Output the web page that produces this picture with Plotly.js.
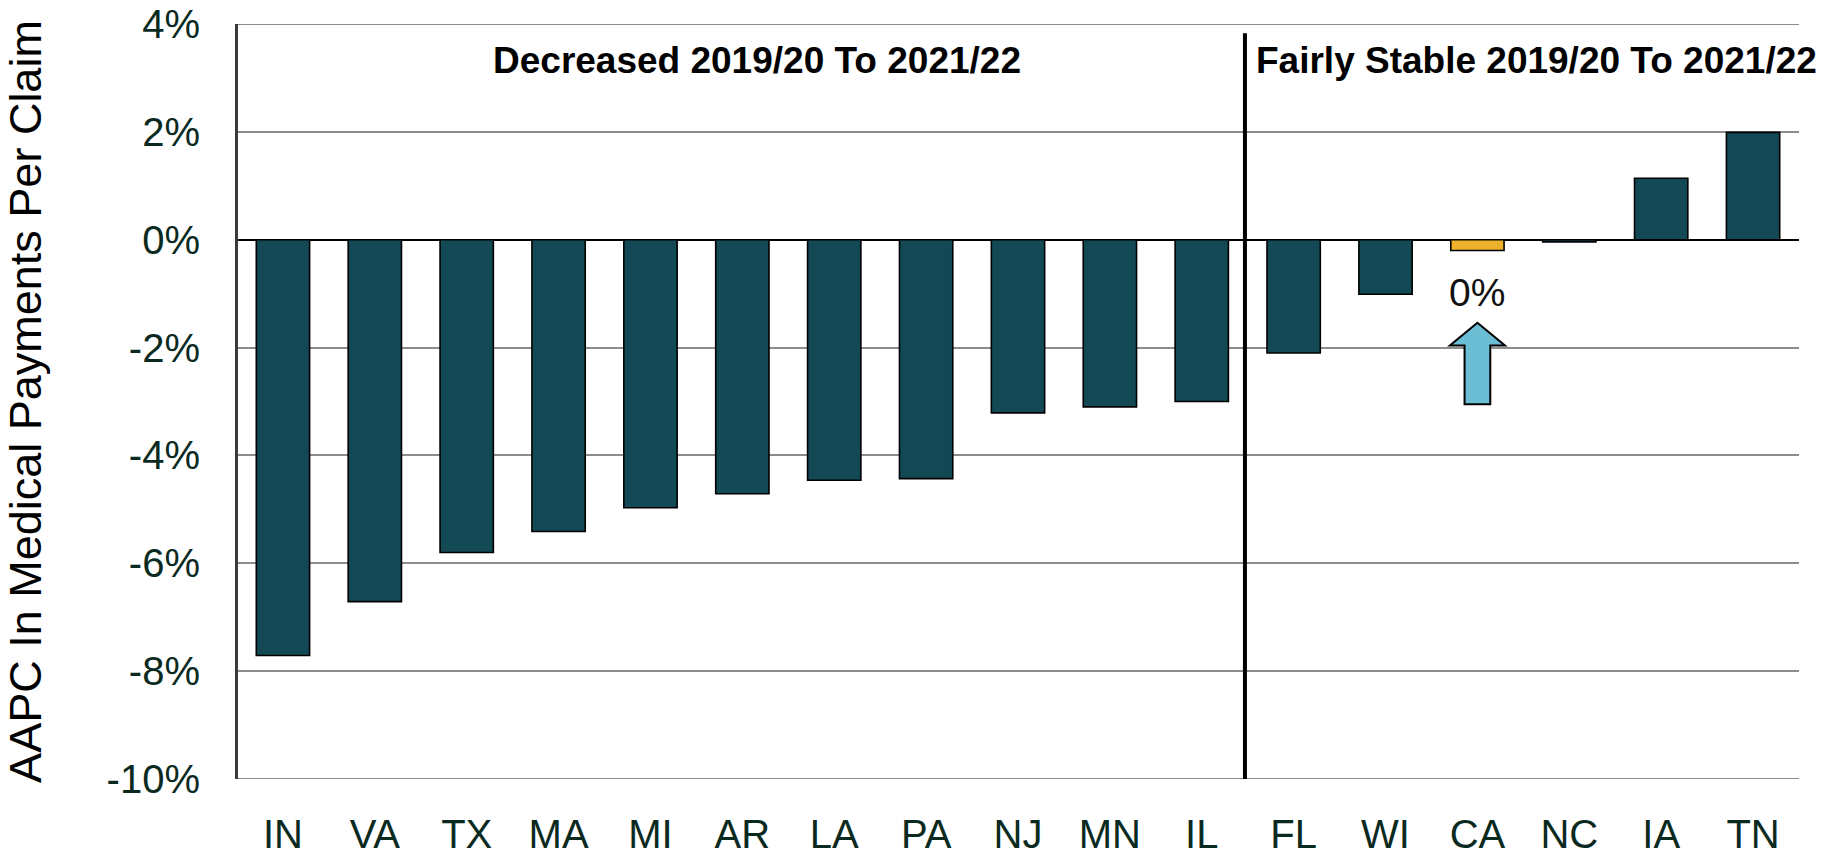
<!DOCTYPE html>
<html>
<head>
<meta charset="utf-8">
<script src="https://cdn.plot.ly/plotly-3.0.1.min.js"></script>
<style>
  html, body { margin: 0; padding: 0; background: #ffffff; }
  #chart { width: 1826px; height: 857px; }
</style>
</head>
<body>
<div id="chart"></div>
<script>
// ---- data ----
const states = ["IN", "VA", "TX", "MA", "MI", "AR", "LA", "PA", "NJ", "MN", "IL", "FL", "WI", "CA", "NC", "IA", "TN"];
const aapc = [-7.71, -6.71, -5.80, -5.41, -4.97, -4.71, -4.46, -4.43, -3.21, -3.10, -3.00, -2.10, -1.01, -0.20, -0.04, 1.14, 1.99];
const highlightState = "CA";
const yTickVals = [4, 2, 0, -2, -4, -6, -8, -10];
const yTickText = ["4%", "2%", "0%", "-2%", "-4%", "-6%", "-8%", "-10%"];
const groupLabels = ["Decreased 2019/20 To 2021/22", "Fairly Stable 2019/20 To 2021/22"];
const highlightLabel = "0%";
const yTitle = "AAPC In Medical Payments Per Claim";

// ---- styles ----
const TEAL = "#134955";
const GOLD = "#EDB12B";
const ARROW = "#6BBDD3";
const TICKCOLOR = "#0b2a1f";
const GRID = "#8c8c8c";
const FONT = "Liberation Sans, Arial, sans-serif";

const colors = states.map(s => s === highlightState ? GOLD : TEAL);
const ci = states.indexOf(highlightState);
const yMin = yTickVals[yTickVals.length - 1];
const yMax = yTickVals[0];

const trace = {
  type: "bar",
  x: states,
  y: aapc,
  marker: { color: colors, line: { color: "#000000", width: 1.6 } },
  hoverinfo: "x+y"
};

// up arrow drawn below the highlighted bar (category units on x, % on y)
const hw = 0.30, sw = 0.14;
const tipY = -1.54, baseY = -1.96, botY = -3.05;
const arrowPath =
  "M " + (ci) + " " + tipY +
  " L " + (ci + hw) + " " + baseY +
  " L " + (ci + sw) + " " + baseY +
  " L " + (ci + sw) + " " + botY +
  " L " + (ci - sw) + " " + botY +
  " L " + (ci - sw) + " " + baseY +
  " L " + (ci - hw) + " " + baseY + " Z";

const layout = {
  width: 1826,
  height: 857,
  margin: { l: 237, r: 27, t: 24, b: 78 },
  paper_bgcolor: "#ffffff",
  plot_bgcolor: "#ffffff",
  showlegend: false,
  bargap: 0.42,
  font: { family: FONT, color: TICKCOLOR },
  xaxis: {
    type: "category",
    categoryorder: "array",
    categoryarray: states,
    tickfont: { family: FONT, size: 40, color: TICKCOLOR },
    ticks: "outside",
    ticklen: 20,
    tickcolor: "rgba(0,0,0,0)",
    showgrid: false,
    showline: false,
    zeroline: false,
    fixedrange: true
  },
  yaxis: {
    range: [yMin, yMax],
    tickvals: yTickVals,
    ticktext: yTickText,
    tickfont: { family: FONT, size: 40, color: TICKCOLOR },
    ticks: "outside",
    ticklen: 27,
    tickcolor: "rgba(0,0,0,0)",
    showgrid: true,
    gridcolor: GRID,
    gridwidth: 2,
    zeroline: true,
    zerolinecolor: "#000000",
    zerolinewidth: 2,
    showline: true,
    linecolor: "#3a3a3a",
    linewidth: 2,
    title: {
      text: yTitle,
      font: { family: FONT, size: 45, color: "#000000" },
      standoff: 56
    },
    automargin: false,
    fixedrange: true
  },
  shapes: [
    {
      type: "line", xref: "paper", yref: "y", layer: "below",
      x0: 0, x1: 1, y0: yMax, y1: yMax,
      line: { color: GRID, width: 2 }
    },
    {
      type: "line", xref: "paper", yref: "y", layer: "below",
      x0: 0, x1: 1, y0: yMin, y1: yMin,
      line: { color: GRID, width: 2 }
    },
    {
      type: "line", xref: "paper", yref: "paper",
      x0: 0, x1: 0, y0: 0, y1: 1,
      line: { color: "#3a3a3a", width: 2 }
    },
    {
      type: "line", xref: "x", yref: "y",
      x0: 10.47, x1: 10.47, y0: yMin, y1: 3.83,
      line: { color: "#000000", width: 4 }
    },
    {
      type: "path", xref: "x", yref: "y",
      path: arrowPath,
      fillcolor: ARROW,
      line: { color: "#000000", width: 2 }
    }
  ],
  annotations: [
    {
      text: "<b>" + groupLabels[0] + "</b>",
      xref: "paper", yref: "paper",
      x: 0.333, y: 0.952, xanchor: "center", yanchor: "middle",
      showarrow: false,
      font: { family: FONT, size: 37, color: "#000000" }
    },
    {
      text: "<b>" + groupLabels[1] + "</b>",
      xref: "paper", yref: "paper",
      x: 1.0125, y: 0.952, xanchor: "right", yanchor: "middle",
      showarrow: false,
      font: { family: FONT, size: 37, color: "#000000" }
    },
    {
      text: highlightLabel,
      xref: "x", yref: "y",
      x: highlightState, y: -0.98, xanchor: "center", yanchor: "middle",
      showarrow: false,
      font: { family: FONT, size: 39, color: "#111111" }
    }
  ]
};

Plotly.newPlot("chart", [trace], layout, { displayModeBar: false, staticPlot: true });
</script>
</body>
</html>
